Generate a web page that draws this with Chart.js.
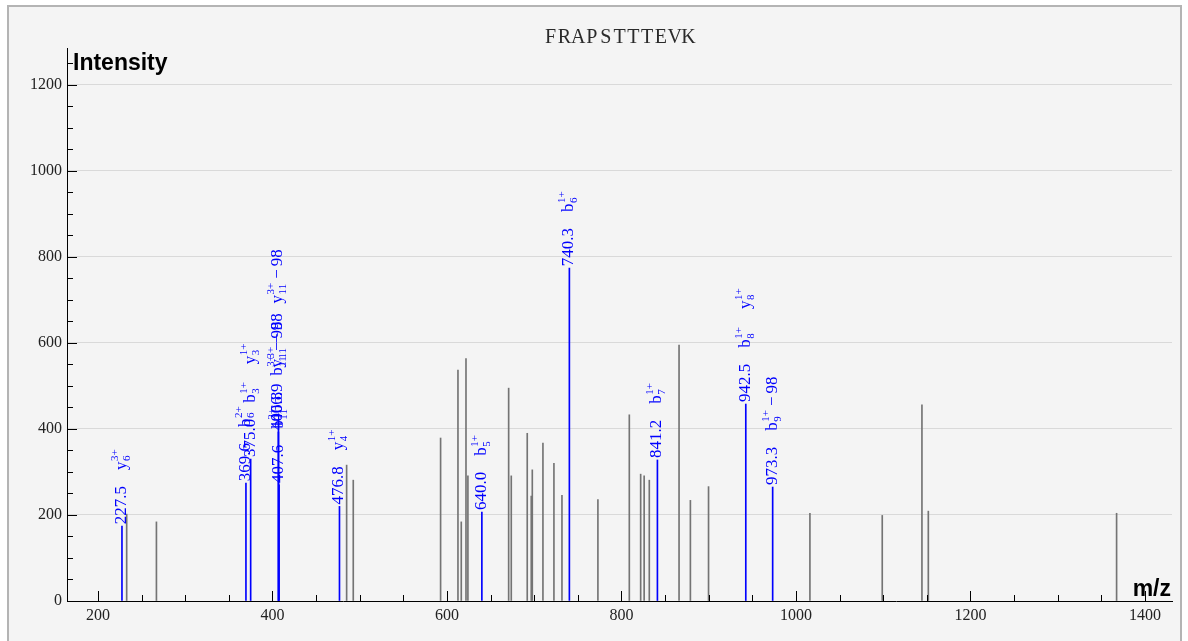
<!DOCTYPE html>
<html>
<head>
<meta charset="utf-8">
<script src="https://cdn.jsdelivr.net/npm/chart.js@4.4.1/dist/chart.umd.min.js"></script>
<style>
  html, body { margin: 0; padding: 0; background: #ffffff; overflow: hidden; }
  #frame {
    position: absolute; left: 7px; top: 5px;
    width: 1171px; height: 660px;
    border: 2px solid #b4b4b4;
    background: #f4f4f4;
  }
  canvas { display: block; }
</style>
</head>
<body>
<div id="frame"><canvas id="spectrum" width="1171" height="634"></canvas></div>
<script>
// Peptide and spectrum data
const peptide = 'FRAPSTTTEVK';

// unmatched peaks (gray)
const otherMz = [232.9, 267.0, 485.0, 492.6, 592.7, 612.6, 616.4, 621.8, 624.0, 670.7,
  673.7, 692.0, 696.6, 697.8, 710.0, 722.6, 731.8, 773.0, 809.0, 822.0,
  826.0, 831.9, 866.0, 879.0, 899.8, 1016.0, 1098.9, 1144.4, 1151.7, 1367.5];
const otherIntensity = [202, 184, 316, 281, 379, 537, 184, 564, 291, 495,
  291, 390, 244, 305, 367, 320, 246, 236, 433, 295,
  291, 281, 595, 234, 266, 204, 199, 456, 209, 204];

// matched peaks (blue)
const matchMz = [227.5, 369.6, 375.0, 406.8, 406.9, 407.6, 476.8, 640.0, 740.3, 841.2, 942.5, 973.3];
const matchIntensity = [174, 274, 330, 393, 412, 270, 220, 207, 774, 328, 458, 265];
const matchText = ['227.5', '369.6', '375.0', '406.8', '406.9', '407.6', '476.8', '640.0', '740.3', '841.2', '942.5', '973.3'];
// ion annotations: [ion, subscript, superscript, suffix]
const matchIons = [
  [['y', '6', '3+', '']],
  [['b', '6', '2+', '']],
  [['b', '3', '1+', ''], ['y', '3', '1+', '']],
  [['b', '11', '3+', '\u221298'], ['y', '11', '3+', '\u221298']],
  [['y', '11', '3+', '\u221298']],
  [['b', '11', '3+', '']],
  [['y', '4', '1+', '']],
  [['b', '5', '1+', '']],
  [['b', '6', '1+', '']],
  [['b', '7', '1+', '']],
  [['b', '8', '1+', ''], ['y', '8', '1+', '']],
  [['b', '9', '1+', '\u221298']]
];

// axis tick values
const xTicks = [200, 400, 600, 800, 1000, 1200, 1400];
const yTicks = [0, 200, 400, 600, 800, 1000, 1200];

const serif = '"Liberation Serif", "Times New Roman", serif';
const blue = '#0000ff';

function drawIon(ctx, x, ion) {
  const [name, sub, sup, tail] = ion;
  ctx.font = '17px ' + serif;
  ctx.fillText(name, x, 4);
  x += ctx.measureText(name).width + 0.5;
  ctx.font = '11px ' + serif;
  const ws = ctx.measureText(sub).width;
  const wp = ctx.measureText(sup).width;
  ctx.fillText(sub, x, 8);
  ctx.fillText(sup, x, -4);
  x += Math.max(ws, wp);
  if (tail) {
    ctx.font = '17px ' + serif;
    x += 4;
    ctx.fillText(tail.charAt(0), x, 4);
    x += ctx.measureText(tail.charAt(0)).width + 3;
    ctx.fillText(tail.slice(1), x, 4);
    x += ctx.measureText(tail.slice(1)).width;
  }
  return x;
}

const decorPlugin = {
  id: 'decor',
  afterDatasetsDraw(chart) {
    const ctx = chart.ctx;
    const xs = chart.scales.x, ys = chart.scales.y;
    const area = chart.chartArea;
    ctx.save();

    // inward ticks
    ctx.strokeStyle = '#000';
    ctx.lineWidth = 1;
    ctx.beginPath();
    for (let v = 0; v <= 1250; v += 50) {
      const py = Math.round(ys.getPixelForValue(v)) + 0.5;
      ctx.moveTo(area.left, py);
      ctx.lineTo(area.left + (v % 200 === 0 ? 10 : 6), py);
    }
    for (let v = 200; v <= 1400; v += 50) {
      const px = Math.round(xs.getPixelForValue(v)) + 0.5;
      ctx.moveTo(px, area.bottom);
      ctx.lineTo(px, area.bottom - (v % 200 === 0 ? 10 : 6));
    }
    ctx.stroke();

    // peak labels
    ctx.fillStyle = blue;
    ctx.textBaseline = 'alphabetic';
    ctx.textAlign = 'left';
    matchMz.forEach((mz, i) => {
      const px = xs.getPixelForValue(mz);
      const py = ys.getPixelForValue(matchIntensity[i]);
      ctx.save();
      ctx.translate(px, py);
      ctx.rotate(-Math.PI / 2);
      ctx.font = '17px ' + serif;
      let x = 2;
      ctx.fillText(matchText[i], x, 4);
      x += ctx.measureText(matchText[i]).width + 16;
      matchIons[i].forEach(ion => {
        x = drawIon(ctx, x, ion) + 18;
      });
      ctx.restore();
    });

    // axis titles
    ctx.fillStyle = '#000';
    ctx.font = 'bold 23px "Liberation Sans", Arial, sans-serif';
    ctx.textAlign = 'left';
    ctx.fillText('Intensity', area.left + 6, 63);
    ctx.textAlign = 'right';
    ctx.fillText('m/z', area.right - 1, area.bottom - 5);

    // title, laid out in fixed-width cells like a typewriter font
    ctx.fillStyle = '#2a2a2a';
    ctx.font = '20px ' + serif;
    ctx.textAlign = 'center';
    const cell = 13.8;
    const startX = (area.left + area.right) / 2 - cell * peptide.length / 2 + cell / 2;
    for (let i = 0; i < peptide.length; i++) {
      ctx.fillText(peptide[i], startX + i * cell, 36);
    }
    ctx.restore();
  }
};

new Chart(document.getElementById('spectrum'), {
  type: 'bar',
  data: {
    datasets: [
      {
        label: 'other',
        data: otherMz.map((m, i) => ({ x: m, y: otherIntensity[i] })),
        backgroundColor: '#747474',
        barThickness: 1,
        grouped: false
      },
      {
        label: 'matched',
        data: matchMz.map((m, i) => ({ x: m, y: matchIntensity[i] })),
        backgroundColor: blue,
        barThickness: 1,
        grouped: false
      }
    ]
  },
  options: {
    responsive: false,
    animation: false,
    devicePixelRatio: 1,
    layout: { padding: { top: 41, right: 8, left: 0, bottom: 0 } },
    plugins: { legend: { display: false }, tooltip: { enabled: false } },
    scales: {
      x: {
        type: 'linear',
        offset: false,
        min: 164.5,
        max: 1431,
        afterFit(scale) { scale.height = 40; },
        afterBuildTicks(scale) { scale.ticks = xTicks.map(v => ({ value: v })); },
        ticks: { padding: 5, color: '#222', font: { family: serif, size: 16 }, callback: v => String(v) },
        grid: { display: false, drawTicks: false, offset: false },
        border: { display: true, color: '#000', width: 1 }
      },
      y: {
        min: 0,
        max: 1286,
        afterFit(scale) { scale.width = 58; },
        afterBuildTicks(scale) { scale.ticks = yTicks.map(v => ({ value: v })); },
        ticks: { padding: 5, color: '#222', font: { family: serif, size: 16 }, callback: v => String(v) },
        grid: {
          drawTicks: false,
          color: ctx => ctx.tick && ctx.tick.value === 0 ? 'rgba(0,0,0,0)' : '#d9d9d9'
        },
        border: { display: true, color: '#000', width: 1 }
      }
    }
  },
  plugins: [decorPlugin]
});
</script>
</body>
</html>
